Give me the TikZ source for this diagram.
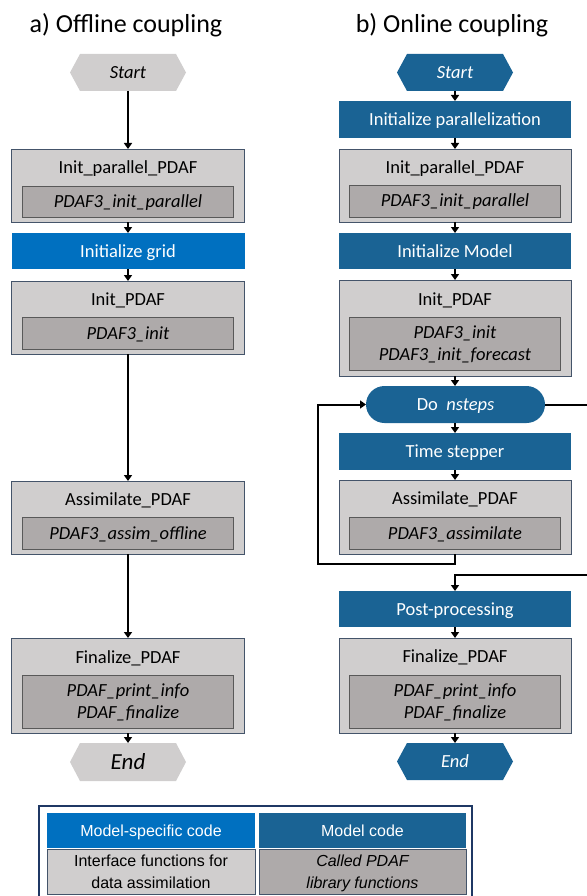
\documentclass[tikz,border=0pt]{standalone}
\usepackage{fontspec}
\setmainfont{Carlito}
\newfontfamily\legfont{Liberation Sans}
\usetikzlibrary{arrows.meta,backgrounds}
\definecolor{lgray}{HTML}{D0CECE}
\definecolor{dgray}{HTML}{AEAAAA}
\definecolor{mblue}{HTML}{0070C0}
\definecolor{dblue}{HTML}{1A6394}
\definecolor{bordc}{HTML}{44546A}
\definecolor{innerc}{HTML}{595959}
\definecolor{legc}{HTML}{1F3864}
\newcommand{\bx}{\fontsize{18.5}{22}\selectfont}
\newcommand{\lx}{\legfont\fontsize{16}{22}\selectfont}
\newcommand{\hexfill}[2]{%
  \fill[#2] ([xshift=10pt]#1.north west) -- ([xshift=-10pt]#1.north east) -- (#1.east)
    -- ([xshift=-10pt]#1.south east) -- ([xshift=10pt]#1.south west) -- (#1.west) -- cycle;}
\begin{document}
\begin{tikzpicture}[x=1pt,y=-1pt,
  outerbox/.style={draw=bordc, fill=lgray, line width=0.8pt, inner sep=0pt, outer sep=0pt},
  innerbox/.style={draw=innerc, fill=dgray, line width=0.8pt, inner sep=0pt, outer sep=0pt,
     font=\bx\itshape, align=center, text height=12pt, text depth=0pt},
  twoline/.style={text height=34pt, text depth=0pt},
  bluebox/.style={fill=#1, text=white, inner sep=0pt, outer sep=0pt, font=\bx,
     text height=12pt, text depth=0pt, minimum width=232pt},
  lbl/.style={font=\bx, anchor=base, inner sep=0pt},
  hexn/.style={minimum width=116pt, minimum height=37pt, inner sep=0pt, outer sep=0pt,
     font=\bx\itshape, text height=12pt, text depth=0pt},
  ttl/.style={font=\fontsize{26}{30}\selectfont, anchor=base, inner sep=0pt},
  arr/.style={-{Triangle[width=8pt,length=6pt]}, line width=1.8pt, black},
  lin/.style={line width=2pt, black},
  legcell/.style={inner sep=0pt, outer sep=0pt, font=\lx, align=center, text height=11.5pt, text depth=0pt}
]
\useasboundingbox (0,0) rectangle (586,896);

% titles
\node[ttl] (ta) at (126,33) {a) Offline coupling};
\node[ttl] (tb) at (452,33) {b) Online coupling};

% ---------------- left column ----------------
\node[hexn] (Ls) at (128,72.5) {Start};
\node[outerbox, minimum width=233pt, minimum height=73pt] (Lipp) at (128,185.5) {};
\node[lbl] (LippT) at (128,174) {Init\_parallel\_PDAF};
\node[innerbox, minimum width=211pt, minimum height=31pt] (LippI) at (128,201.5) {PDAF3\_init\_parallel};
\node[bluebox=mblue, minimum width=233pt, minimum height=36pt] (Lgrid) at (128,251) {Initialize grid};
\node[outerbox, minimum width=233pt, minimum height=73pt] (Linit) at (128,317.5) {};
\node[lbl] (LinitT) at (128,305) {Init\_PDAF};
\node[innerbox, minimum width=211pt, minimum height=32pt] (LinitI) at (128,333) {PDAF3\_init};
\node[outerbox, minimum width=233pt, minimum height=73pt] (Lass) at (128,517.5) {};
\node[lbl] (LassT) at (128,505) {Assimilate\_PDAF};
\node[innerbox, minimum width=211pt, minimum height=32pt] (LassI) at (128,533) {PDAF3\_assim\_offline};
\node[outerbox, minimum width=233pt, minimum height=95pt] (Lfin) at (128,685.5) {};
\node[lbl] (LfinT) at (128,663) {Finalize\_PDAF};
\node[innerbox, twoline, minimum width=211pt, minimum height=53pt] (LfinI) at (128,701.5) {PDAF\_print\_info\\PDAF\_finalize};
\node[hexn, font=\fontsize{23}{26}\selectfont\itshape, text height=14.8pt, minimum height=38pt] (Le) at (128,762) {End};

\draw[arr] (Ls.south) -- (Lipp.north);
\draw[arr] (Lipp.south) -- (Lgrid.north);
\draw[arr] (Lgrid.south) -- (Linit.north);
\draw[arr] (Linit.south) -- (Lass.north);
\draw[arr] (Lass.south) -- (Lfin.north);
\draw[arr] (Lfin.south) -- (Le.north);

% ---------------- right column ----------------
\node[hexn, text=white] (Rs) at (455,72.5) {Start};
\node[bluebox=dblue, minimum height=37pt] (Rpar) at (455,119.5) {Initialize parallelization};
\node[outerbox, minimum width=232pt, minimum height=73pt] (Ripp) at (455,185.5) {};
\node[lbl] (RippT) at (455,174) {Init\_parallel\_PDAF};
\node[innerbox, minimum width=211pt, minimum height=32pt] (RippI) at (455,201) {PDAF3\_init\_parallel};
\node[bluebox=dblue, minimum height=36pt] (Rmod) at (455,251) {Initialize Model};
\node[outerbox, minimum width=232pt, minimum height=96pt] (Rinit) at (455,328) {};
\node[lbl] (RinitT) at (455,305) {Init\_PDAF};
\node[innerbox, twoline, minimum width=211pt, minimum height=53pt] (RinitI) at (455,343.5) {PDAF3\_init\\PDAF3\_init\_forecast};
\node[fill=dblue, text=white, font=\bx, text height=12pt, text depth=0pt, inner sep=0pt, outer sep=0pt,
      minimum width=179pt, minimum height=37pt, rounded corners=18.5pt] (Rdo) at (455.5,404.5) {Do\ \ \textit{nsteps}};
\node[bluebox=dblue, minimum height=37pt] (Rts) at (455,451.5) {Time stepper};
\node[outerbox, minimum width=232pt, minimum height=74pt] (Rass) at (455,517) {};
\node[lbl] (RassT) at (455,504) {Assimilate\_PDAF};
\node[innerbox, minimum width=211pt, minimum height=32pt] (RassI) at (455,533) {PDAF3\_assimilate};
\node[bluebox=dblue, minimum height=36pt] (Rpost) at (455,609) {Post-processing};
\node[outerbox, minimum width=232pt, minimum height=95pt] (Rfin) at (455,685.5) {};
\node[lbl] (RfinT) at (455,662) {Finalize\_PDAF};
\node[innerbox, twoline, minimum width=211pt, minimum height=53pt] (RfinI) at (455,701.5) {PDAF\_print\_info\\PDAF\_finalize};
\node[hexn, text=white] (Re) at (455,761.5) {End};

\begin{pgfonlayer}{background}
  \hexfill{Ls}{lgray}
  \hexfill{Le}{lgray}
  \hexfill{Rs}{dblue}
  \hexfill{Re}{dblue}
\end{pgfonlayer}

\draw[arr] (Rs.south) -- (Rpar.north);
\draw[arr] (Rpar.south) -- (Ripp.north);
\draw[arr] (Ripp.south) -- (Rmod.north);
\draw[arr] (Rmod.south) -- (Rinit.north);
\draw[arr] (Rinit.south) -- (Rinit.south |- Rdo.north);
\draw[arr] (Rinit.south |- Rdo.south) -- (Rts.north);
\draw[arr] (Rts.south) -- (Rass.north);
\draw[arr] (Rpost.south) -- (Rfin.north);
\draw[arr] (Rfin.south) -- (Re.north);

\coordinate (lpBL) at (318,564);
\coordinate (outR) at (588,404.5);
\coordinate (inR) at (588,575);
\draw[lin, -{Triangle[width=8pt,length=6pt]}] (Rass.south) |- (lpBL) |- (Rdo.west);
\draw[lin] (Rdo.east) -- (outR);
\draw[lin, -{Triangle[width=8pt,length=6pt]}] (inR) -| (Rpost.north);

% ---------------- legend ----------------
\node[draw=legc, line width=1.5pt, inner sep=0pt, outer sep=0pt, minimum width=433pt, minimum height=96pt] (leg) at (255.5,854) {};
\node[legcell, fill=mblue, text=white, minimum width=208pt, minimum height=35pt] (legA) at (151,830.5) {Model-specific code};
\node[legcell, fill=dblue, text=white, minimum width=207pt, minimum height=35pt] (legB) at (362.5,830.5) {Model code};
\node[legcell, fill=lgray, draw=bordc, line width=0.6pt, minimum width=208pt, minimum height=45pt, text height=33.5pt] (legC) at (151,871.5) {Interface functions for\\data assimilation};
\node[legcell, fill=dgray, draw=bordc, line width=0.6pt, minimum width=207pt, minimum height=45pt, text height=33.5pt, font=\lx\itshape] (legD) at (362.5,871.5) {Called PDAF\\library functions};
\end{tikzpicture}
\end{document}
